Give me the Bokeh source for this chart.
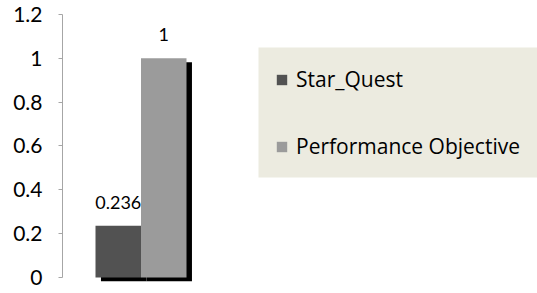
from bokeh.plotting import figure
from bokeh.models import Range1d, Legend, LegendItem, ColumnDataSource, FixedTicker, BoxAnnotation
from bokeh.core.properties import value
from bokeh.embed import file_html
from bokeh.resources import INLINE

# ---- data ----
series = ["Star_Quest", "Performance Objective"]
values = [0.236, 1.0]
labels = ["0.236", "1"]
colors = ["#525252", "#9b9b9b"]
y_ticks = [0, 0.2, 0.4, 0.6, 0.8, 1.0, 1.2]
y_tick_labels = ["0", "0.2", "0.4", "0.6", "0.8", "1", "1.2"]

# styling constants
BAR_W = 1.0
SHADOW_DX = 0.12
SHADOW_DY = 0.018
FONT = "Lato"

p = figure(width=537, height=293, output_backend="svg", toolbar_location=None,
           x_range=Range1d(-0.2253, 10.214), y_range=Range1d(-0.0183, 1.2),
           min_border_left=62, min_border_right=0, min_border_top=14, min_border_bottom=12)
p.outline_line_color = None
p.grid.visible = False
p.xaxis.visible = False
p.background_fill_color = "white"
p.border_fill_color = "white"

xs = [i + 1 for i in range(len(series))]

# legend background panel (screen units, measured from the frame's bottom-left)
p.add_layout(BoxAnnotation(left=196, right=480, top=234, bottom=104,
                           left_units="screen", right_units="screen",
                           top_units="screen", bottom_units="screen",
                           fill_color="#ecebe0", fill_alpha=1.0, line_color=None))

# shadows
for x, v in zip(xs, values):
    p.quad(left=x - BAR_W / 2 + SHADOW_DX, right=x + BAR_W / 2 + SHADOW_DX,
           bottom=-SHADOW_DY, top=v - SHADOW_DY, fill_color="black", line_color=None)

renderers = []
for x, v, c in zip(xs, values, colors):
    r = p.quad(left=x - BAR_W / 2, right=x + BAR_W / 2, bottom=0, top=v,
               fill_color=c, line_color=None)
    renderers.append(r)

src = ColumnDataSource(dict(x=xs, y=values, t=labels))
p.text(x="x", y="y", text="t", source=src, text_align="center", text_baseline="bottom",
       y_offset=-17, text_font=value(FONT), text_font_size="18px", text_color="black")

ax = p.yaxis[0]
ax.ticker = FixedTicker(ticks=y_ticks)
ax.major_label_overrides = {t: l for t, l in zip(y_ticks, y_tick_labels)}
ax.bounds = (0, 1.2)
ax.minor_tick_line_color = None
ax.major_tick_in = 0
ax.major_tick_out = 4
ax.major_label_standoff = 16
ax.axis_line_color = "#a6a6a6"
ax.major_tick_line_color = "#a6a6a6"
ax.major_label_text_font = FONT
ax.major_label_text_font_size = "21px"
ax.major_label_text_color = "black"

legend = Legend(items=[LegendItem(label=s, renderers=[r]) for s, r in zip(series, renderers)],
                location=(213, 121), orientation="vertical",
                background_fill_alpha=0.0,
                border_line_color=None, padding=0, spacing=39,
                glyph_width=13, glyph_height=13, label_height=26, label_standoff=8,
                label_text_font="Open Sans", label_text_font_size="21px", label_text_color="black")
p.add_layout(legend)

open("out.html", "w").write(file_html(p, INLINE))
